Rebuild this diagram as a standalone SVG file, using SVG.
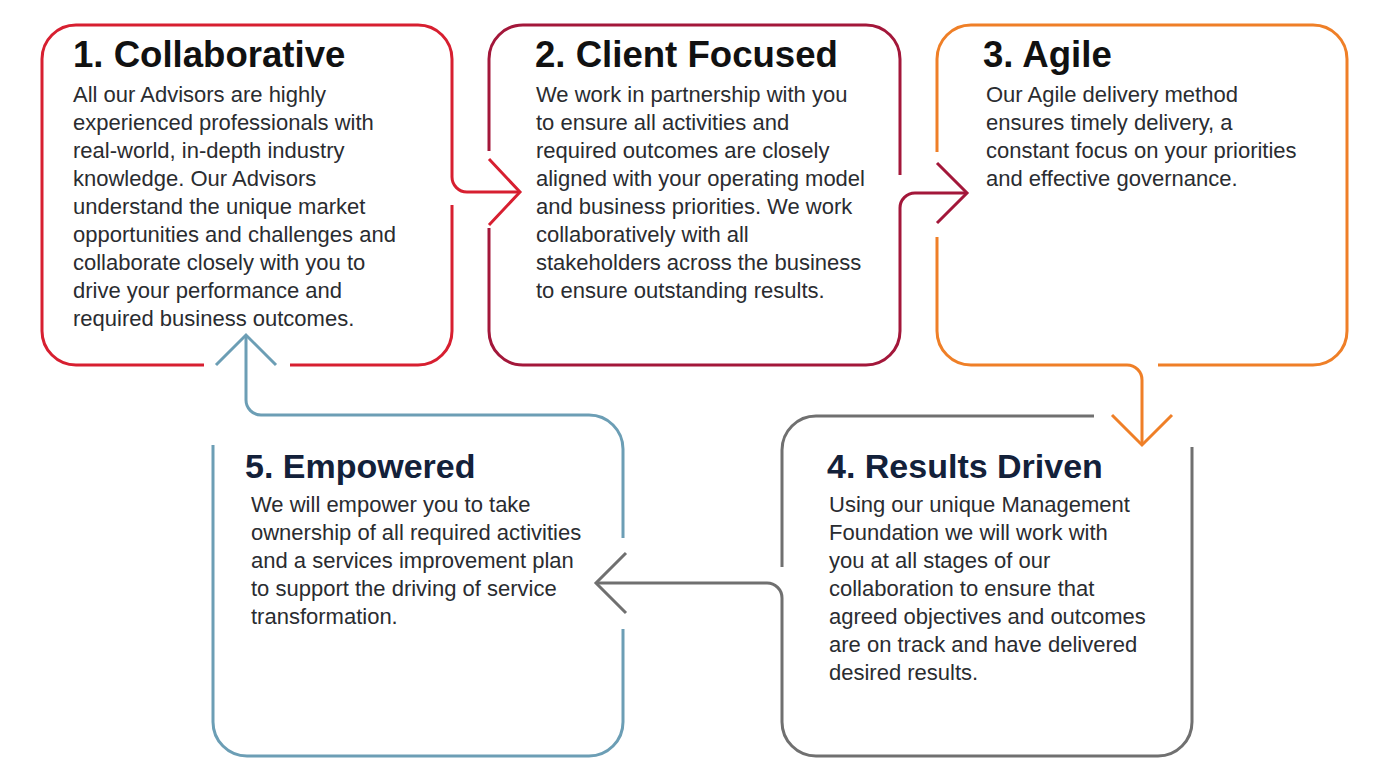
<svg xmlns="http://www.w3.org/2000/svg" width="1389" height="782" viewBox="0 0 1389 782">
<style>
.o{fill:none;stroke-width:3;stroke-linecap:butt;stroke-linejoin:round}
.red{stroke:#d71f30}.mar{stroke:#a3173a}.ora{stroke:#ef7f27}.gry{stroke:#707070}.tea{stroke:#6c9eb5}
.t{font-family:"Liberation Sans",Arial,sans-serif;font-weight:bold;font-size:36.6px}
.ts{font-size:34px}
.tk{fill:#111111}.tn{fill:#13213a}
.b{font-family:"Liberation Sans",Arial,sans-serif;font-size:22px;fill:#2a2c30}
</style>
<defs>
<marker id="mRed" markerUnits="userSpaceOnUse" markerWidth="40" markerHeight="80" refX="32" refY="36" orient="auto" overflow="visible"><path d="M1,3 L32,36 L1,69" fill="none" stroke="#d71f30" stroke-width="3"/></marker>
<marker id="mMar" markerUnits="userSpaceOnUse" markerWidth="40" markerHeight="70" refX="31" refY="31" orient="auto" overflow="visible"><path d="M1,1 L31,31 L1,61" fill="none" stroke="#a3173a" stroke-width="3"/></marker>
<marker id="mOra" markerUnits="userSpaceOnUse" markerWidth="40" markerHeight="70" refX="31" refY="31" orient="auto" overflow="visible"><path d="M1,1 L31,31 L1,61" fill="none" stroke="#ef7f27" stroke-width="3"/></marker>
<marker id="mGry" markerUnits="userSpaceOnUse" markerWidth="40" markerHeight="70" refX="31" refY="31" orient="auto" overflow="visible"><path d="M1,1 L31,31 L1,61" fill="none" stroke="#707070" stroke-width="3"/></marker>
<marker id="mTea" markerUnits="userSpaceOnUse" markerWidth="40" markerHeight="70" refX="31" refY="31" orient="auto" overflow="visible"><path d="M1,1 L31,31 L1,61" fill="none" stroke="#6c9eb5" stroke-width="3"/></marker>
</defs>
<rect width="1389" height="782" fill="#ffffff"/>

<g id="node1">
<path class="o red" d="M204,365 H76 A34,34 0 0 1 42,331 V59 A34,34 0 0 1 76,25 H418 A34,34 0 0 1 452,59 V177"/>
<path class="o red" d="M452,205 V331 A34,34 0 0 1 418,365 H290"/>
<text class="t tk" x="73" y="67">1. Collaborative</text>
<text class="b" x="73" y="102">All our Advisors are highly</text>
<text class="b" x="73" y="130">experienced professionals with</text>
<text class="b" x="73" y="158">real-world, in-depth industry</text>
<text class="b" x="73" y="186">knowledge. Our Advisors</text>
<text class="b" x="73" y="214">understand the unique market</text>
<text class="b" x="73" y="242">opportunities and challenges and</text>
<text class="b" x="73" y="270">collaborate closely with you to</text>
<text class="b" x="73" y="298">drive your performance and</text>
<text class="b" x="73" y="326">required business outcomes.</text>
</g>

<g id="node2">
<path class="o mar" d="M900,175 V59 A34,34 0 0 0 866,25 H523 A34,34 0 0 0 489,59 V151"/>
<path class="o mar" d="M489,228 V331 A34,34 0 0 0 523,365 H866 A34,34 0 0 0 900,331 V208"/>
<text class="t tk" x="535" y="67">2. Client Focused</text>
<text class="b" x="536" y="102">We work in partnership with you</text>
<text class="b" x="536" y="130">to ensure all activities and</text>
<text class="b" x="536" y="158">required outcomes are closely</text>
<text class="b" x="536" y="186">aligned with your operating model</text>
<text class="b" x="536" y="214">and business priorities. We work</text>
<text class="b" x="536" y="242">collaboratively with all</text>
<text class="b" x="536" y="270">stakeholders across the business</text>
<text class="b" x="536" y="298">to ensure outstanding results.</text>
</g>

<g id="node3">
<path class="o ora" d="M937,152 V59 A34,34 0 0 1 971,25 H1313 A34,34 0 0 1 1347,59 V331 A34,34 0 0 1 1313,365 H1158"/>
<path class="o ora" d="M937,237 V331 A34,34 0 0 0 971,365 H1127"/>
<text class="t tk" x="983" y="67">3. Agile</text>
<text class="b" x="986" y="102">Our Agile delivery method</text>
<text class="b" x="986" y="130">ensures timely delivery, a</text>
<text class="b" x="986" y="158">constant focus on your priorities</text>
<text class="b" x="986" y="186">and effective governance.</text>
</g>

<g id="node4">
<path class="o gry" d="M1094,416 H816 A34,34 0 0 0 782,450 V567"/>
<path class="o gry" d="M1192,447 V722 A34,34 0 0 1 1158,756 H816 A34,34 0 0 1 782,722 V598"/>
<text class="t ts tn" x="827" y="478">4. Results Driven</text>
<text class="b" x="829" y="512">Using our unique Management</text>
<text class="b" x="829" y="540">Foundation we will work with</text>
<text class="b" x="829" y="568">you at all stages of our</text>
<text class="b" x="829" y="596">collaboration to ensure that</text>
<text class="b" x="829" y="624">agreed objectives and outcomes</text>
<text class="b" x="829" y="652">are on track and have delivered</text>
<text class="b" x="829" y="680">desired results.</text>
</g>

<g id="node5">
<path class="o tea" d="M623,538 V449 A34,34 0 0 0 589,415 H261"/>
<path class="o tea" d="M623,629 V722 A34,34 0 0 1 589,756 H247 A34,34 0 0 1 213,722 V445"/>
<text class="t ts tn" x="245" y="478">5. Empowered</text>
<text class="b" x="251" y="512">We will empower you to take</text>
<text class="b" x="251" y="540">ownership of all required activities</text>
<text class="b" x="251" y="568">and a services improvement plan</text>
<text class="b" x="251" y="596">to support the driving of service</text>
<text class="b" x="251" y="624">transformation.</text>
</g>

<g id="connectors">
<path class="o red" d="M452,177 A15,15 0 0 0 467,192 H520" marker-end="url(#mRed)"/>
<path class="o mar" d="M900,208 A15,15 0 0 1 915,193 H967" marker-end="url(#mMar)"/>
<path class="o ora" d="M1127,365 A15,15 0 0 1 1142,380 V445" marker-end="url(#mOra)"/>
<path class="o gry" d="M782,598 A15,15 0 0 0 767,583 H596" marker-end="url(#mGry)"/>
<path class="o tea" d="M261,415 A15,15 0 0 1 246,400 V335" marker-end="url(#mTea)"/>
</g>
</svg>
